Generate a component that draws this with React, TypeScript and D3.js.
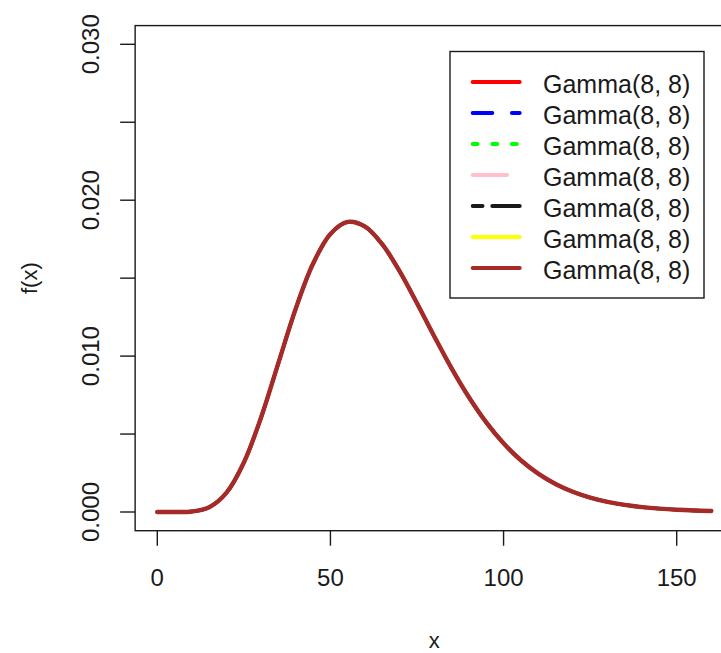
import React from "react";
import * as d3 from "d3";

// Gamma(shape = 8, scale = 8) density sampled along x
const xValues = [
  0, 5, 10, 15, 20, 25, 30, 35, 40, 45, 50, 55, 60, 65, 70, 75, 80, 85, 90, 95,
  100, 105, 110, 115, 120, 125, 130, 135, 140, 145, 150, 155, 160,
];
const densityValues = [
  0, 0.0000005, 0.0000339, 0.0003099, 0.0012426, 0.0031715, 0.0060827,
  0.0095773, 0.013056, 0.015936, 0.017836, 0.018605, 0.018311, 0.017163,
  0.015433, 0.01339, 0.01126, 0.009213, 0.007358, 0.00575, 0.004407, 0.003319,
  0.002461, 0.001798, 0.001296, 0.000923, 0.00065, 0.000453, 0.000312,
  0.000214, 0.000145, 0.0000977, 0.0000653,
];

const seriesLabels = [
  "Gamma(8, 8)",
  "Gamma(8, 8)",
  "Gamma(8, 8)",
  "Gamma(8, 8)",
  "Gamma(8, 8)",
  "Gamma(8, 8)",
  "Gamma(8, 8)",
];
const seriesColors = ["#FF0000", "#0000FF", "#00FF00", "#FFC0CB", "#1a1a1a", "#FFFF00", "#A52A2A"];
// R line types: solid, dashed, dotted, longdash, twodash, solid, solid
const seriesDash = ["", "19.6 19.6", "4.9 14.7", "34.3 14.7", "9.8 9.8 29.4 9.8", "", ""];

const xTicks = [0, 50, 100, 150];
const yTicks = [0, 0.005, 0.01, 0.015, 0.02, 0.025, 0.03];
const yLabelTicks = [0, 0.01, 0.02, 0.03];

const W = 721;
const H = 653;
const FONT = "'Liberation Sans', Arial, Helvetica, sans-serif";

export default function App() {
  const x = d3.scaleLinear().domain([0, 150]).range([157.3, 676.7]);
  const y = d3.scaleLinear().domain([0, 0.03]).range([512, 44.3]);

  const left = x(-6.4);
  const right = x(166.4);
  const top = y(0.0312);
  const bottom = y(-0.0012);

  const pts = xValues.map((v, i) => [v, densityValues[i]] as [number, number]);
  const line = d3
    .line<[number, number]>()
    .x((d) => x(d[0]))
    .y((d) => y(d[1]))
    .curve(d3.curveCatmullRom.alpha(0.5));
  const pathD = line(pts) || "";
  const last = seriesColors.length - 1;

  const legX0 = 450;
  const legY0 = 51.5;
  const legW = 254;
  const legH = 246.5;
  const rowY = (i: number) => 82 + i * 31;

  return (
    <svg
      width={W}
      height={H}
      style={{ position: "absolute", left: 0, top: 0, background: "#fff" }}
      fontFamily={FONT}
    >
      <rect x={0} y={0} width={W} height={H} fill="#fff" />

      {/* curves: every series shares the same density, the last one ends on top */}
      <g fill="none" strokeLinecap="round" strokeLinejoin="round">
        {seriesColors.map((c, i) => (
          <path
            key={i}
            d={pathD}
            stroke={c}
            strokeWidth={i === last ? 4.4 : 3.4}
            strokeDasharray={seriesDash[i] || undefined}
          />
        ))}
      </g>

      {/* plot frame */}
      <rect
        x={left}
        y={top}
        width={right - left}
        height={bottom - top}
        fill="none"
        stroke="#1a1a1a"
        strokeWidth={1.4}
      />

      {/* y axis */}
      <g stroke="#1a1a1a" strokeWidth={1.4}>
        {yTicks.map((t) => (
          <line key={t} x1={left - 15} x2={left} y1={y(t)} y2={y(t)} />
        ))}
      </g>
      {yLabelTicks.map((t) => (
        <text
          key={t}
          transform={`translate(99, ${y(t)}) rotate(-90)`}
          textAnchor="middle"
          fontSize={24}
          fill="#1a1a1a"
        >
          {d3.format(".3f")(t)}
        </text>
      ))}

      {/* x axis */}
      <g stroke="#1a1a1a" strokeWidth={1.4}>
        {xTicks.map((t) => (
          <line key={t} x1={x(t)} x2={x(t)} y1={bottom} y2={bottom + 15} />
        ))}
      </g>
      {xTicks.map((t) => (
        <text
          key={t}
          x={x(t)}
          y={586}
          textAnchor="middle"
          fontSize={24}
          fill="#1a1a1a"
        >
          {t}
        </text>
      ))}

      {/* axis titles */}
      <text x={(left + right) / 2} y={648} textAnchor="middle" fontSize={22} fill="#1a1a1a">
        x
      </text>
      <text
        transform={`translate(37, ${(top + bottom) / 2}) rotate(-90)`}
        textAnchor="middle"
        fontSize={22}
        fill="#1a1a1a"
      >
        f(x)
      </text>

      {/* legend */}
      <rect
        x={legX0}
        y={legY0}
        width={legW}
        height={legH}
        fill="#fff"
        stroke="#1a1a1a"
        strokeWidth={1.4}
      />
      {seriesLabels.map((lab, i) => (
        <g key={i}>
          <line
            x1={472.7}
            x2={519.7}
            y1={rowY(i)}
            y2={rowY(i)}
            stroke={seriesColors[i]}
            strokeWidth={4}
            strokeLinecap="round"
            strokeDasharray={seriesDash[i] || undefined}
          />
          <text x={543} y={rowY(i) + 11} fontSize={25} fill="#1a1a1a">
            {lab}
          </text>
        </g>
      ))}
    </svg>
  );
}
